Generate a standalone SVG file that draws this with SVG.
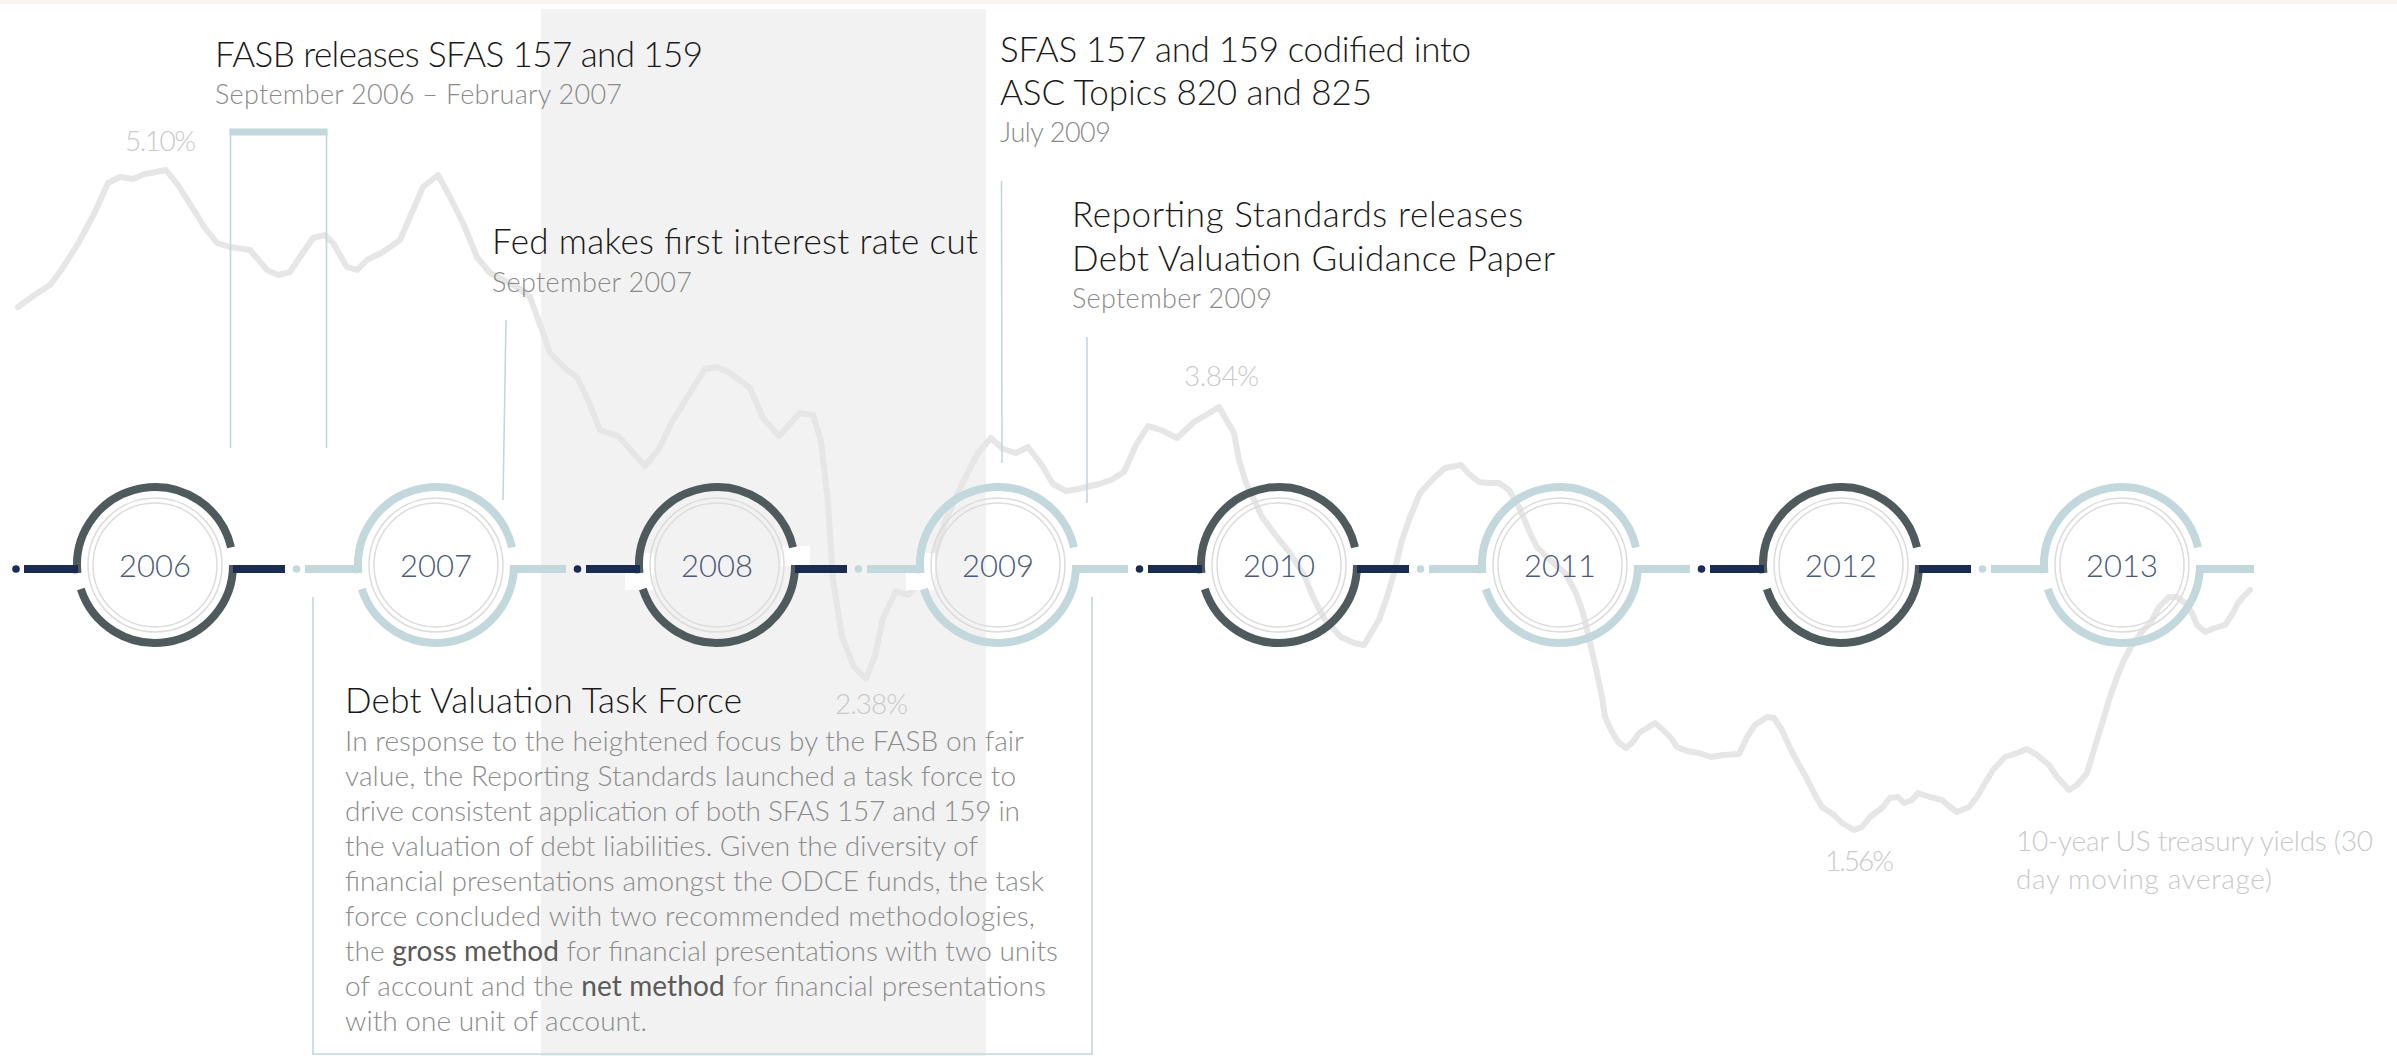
<svg xmlns="http://www.w3.org/2000/svg" width="2397" height="1056" viewBox="0 0 2397 1056">
<style>
text{font-family:"Lato","Open Sans","Noto Sans","Liberation Sans",sans-serif;font-weight:300}
.t{font-size:35px;fill:#1a1a1a}
.d{font-size:27px;fill:#8a8a8a}
.p{font-size:28px;fill:#c9c9c9}
.b{font-size:28px;fill:#8c8c8c}
.em{fill:#5a5a5a;font-weight:400}
.y{font-size:31px;fill:#4b5b7b;text-anchor:middle}
.lead{stroke:#c2d8dc;stroke-width:1.6;fill:none}
.ringD{stroke:#4f5a5c;stroke-width:8;fill:none}
.ringL{stroke:#c2d8dc;stroke-width:8;fill:none}
.inner{stroke:#dcdcdc;stroke-width:1.5;fill:none}
.mask{fill:#ffffff}
.barD{fill:#1a2c50}
.barL{fill:#c2d8dc}
</style>
<defs>
<g id="maskset">
<rect class="mask" x="-92" y="8" width="28" height="17"/>
<rect class="mask" x="-74" y="-12" width="11" height="20"/>
<rect class="mask" x="64" y="-19" width="29" height="20"/>
</g>
<g id="innerset">
<circle class="inner" r="67"/>
<circle class="inner" r="62"/>
</g>
<path id="arcTop" d="M-77.57,8.15 A78,78 0 0 1 76,-17.55"/>
<path id="arcBot" d="M78,0 A78,78 0 0 1 -74.18,24.1"/>
</defs>
<rect x="0" y="0" width="2397" height="1056" fill="#ffffff"/>
<rect x="0" y="0" width="2397" height="4" fill="#f6f5f1"/>
<rect x="541" y="9" width="445" height="1047" fill="#f2f2f2"/>
<g id="yield-curve">
<polyline fill="none" stroke="#e6e6e6" stroke-width="6" stroke-linejoin="round" stroke-linecap="round" points="18,307 33,296 50,285 62,269 79,242 95,212 108,183 120,177 133,179 145,174 166,170 178,185 195,212 205,228 217,243 230,247 250,250 267,270 278,275 290,272 300,257 313,238 325,235 333,243 347,267 357,270 367,260 383,252 400,240 413,210 423,187 438,175 450,197 463,223 477,257 490,273 517,287 530,297 543,333 550,353 567,370 577,377 588,400 600,430 618,436 630,449 645,466 659,449 672,422 688,396 705,369 717,367 730,373 750,388 763,418 779,436 788,426 800,413 813,415 821,441 828,503 833,579 842,637 854,667 866,679 875,656 883,618 896,591 908,595 920,583 933,560 945,522 962,484 978,453 991,438 1003,449 1016,453 1028,447 1041,464 1053,484 1066,491 1078,489 1099,484 1111,480 1124,472 1136,445 1148,426 1161,430 1177,438 1194,422 1206,415 1219,407 1234,433 1239,460 1246,483 1262,517 1277,537 1290,553 1305,577 1313,597 1325,620 1341,637 1354,643 1364,645 1371,633 1379,620 1387,597 1394,573 1402,540 1410,517 1420,493 1435,477 1445,468 1461,465 1468,473 1479,482 1489,483 1499,483 1509,490 1519,507 1530,533 1537,547 1550,560 1565,573 1576,593 1583,613 1591,647 1597,673 1602,697 1605,717 1611,730 1618,742 1626,748 1633,742 1639,733 1647,728 1655,723 1663,730 1671,738 1677,747 1687,751 1699,753 1711,757 1723,755 1739,754 1747,737 1755,725 1767,717 1774,718 1782,730 1790,748 1798,763 1806,777 1814,793 1822,807 1834,815 1842,823 1854,830 1862,827 1870,817 1882,808 1890,798 1898,797 1904,803 1912,800 1918,793 1930,797 1942,800 1950,807 1957,812 1969,807 1977,797 1985,783 1993,770 2005,757 2017,753 2027,749 2037,755 2049,765 2057,777 2069,790 2077,785 2087,773 2093,753 2101,727 2109,700 2117,677 2124,660 2131,647 2141,633 2151,622 2159,607 2169,597 2177,597 2185,603 2192,613 2197,625 2205,632 2215,628 2225,625 2233,613 2238,603 2243,597 2250,590"/>
</g>
<g id="chart-labels">
<text class="p" x="125" y="151" textLength="71">5.10%</text>
<text class="p" x="1184" y="386" textLength="75">3.84%</text>
<text class="p" x="835" y="714" textLength="73">2.38%</text>
<text class="p" x="1825" y="871" textLength="69">1.56%</text>
<text class="p" x="2016" y="851" textLength="357">10-year US treasury yields (30</text>
<text class="p" x="2016" y="889" textLength="256">day moving average)</text>
</g>
<g id="leaders">
<rect x="229.5" y="128.5" width="98" height="7" fill="#c2d8dc"/>
<line class="lead" x1="230.5" y1="129" x2="230.5" y2="448"/>
<line class="lead" x1="326.5" y1="129" x2="326.5" y2="448"/>
<line class="lead" x1="506" y1="320" x2="503" y2="500"/>
<line class="lead" x1="1001.5" y1="181" x2="1002" y2="463"/>
<line class="lead" x1="1087" y1="337" x2="1087" y2="503"/>
<polyline class="lead" stroke-width="2" points="313,597 313,1054 1092,1054 1092,597"/>
</g>
<g id="n2006" transform="translate(155,565)">
<use href="#maskset"/><use href="#innerset"/>
<use href="#arcTop" class="ringD"/><use href="#arcBot" class="ringD"/>
<text class="y" x="0" y="12">2006</text>
</g>
<g id="n2007" transform="translate(436,565)">
<use href="#maskset"/><use href="#innerset"/>
<use href="#arcTop" class="ringL"/><use href="#arcBot" class="ringL"/>
<text class="y" x="0" y="12">2007</text>
</g>
<g id="n2008" transform="translate(717,565)">
<use href="#maskset"/><use href="#innerset"/>
<use href="#arcTop" class="ringD"/><use href="#arcBot" class="ringD"/>
<text class="y" x="0" y="12">2008</text>
</g>
<g id="n2009" transform="translate(998,565)">
<use href="#maskset"/><use href="#innerset"/>
<use href="#arcTop" class="ringL"/><use href="#arcBot" class="ringL"/>
<text class="y" x="0" y="12">2009</text>
</g>
<g id="n2010" transform="translate(1279,565)">
<use href="#maskset"/><use href="#innerset"/>
<use href="#arcTop" class="ringD"/><use href="#arcBot" class="ringD"/>
<text class="y" x="0" y="12">2010</text>
</g>
<g id="n2011" transform="translate(1560,565)">
<use href="#maskset"/><use href="#innerset"/>
<use href="#arcTop" class="ringL"/><use href="#arcBot" class="ringL"/>
<text class="y" x="0" y="12">2011</text>
</g>
<g id="n2012" transform="translate(1841,565)">
<use href="#maskset"/><use href="#innerset"/>
<use href="#arcTop" class="ringD"/><use href="#arcBot" class="ringD"/>
<text class="y" x="0" y="12">2012</text>
</g>
<g id="n2013" transform="translate(2122,565)">
<use href="#maskset"/><use href="#innerset"/>
<use href="#arcTop" class="ringL"/><use href="#arcBot" class="ringL"/>
<text class="y" x="0" y="12">2013</text>
</g>
<g id="connectors">
<circle class="barD" cx="16" cy="569" r="3.8"/>
<rect class="barD" x="24" y="565" width="54" height="8"/>
<rect class="barD" x="233" y="565" width="52" height="8"/>
<circle class="barL" cx="296.5" cy="569" r="3.8"/>
<rect class="barL" x="305" y="565" width="54" height="8"/>
<rect class="barL" x="514" y="565" width="52" height="8"/>
<circle class="barD" cx="577.5" cy="569" r="3.8"/>
<rect class="barD" x="586" y="565" width="54" height="8"/>
<rect class="barD" x="795" y="565" width="52" height="8"/>
<circle class="barL" cx="858.5" cy="569" r="3.8"/>
<rect class="barL" x="867" y="565" width="54" height="8"/>
<rect class="barL" x="1076" y="565" width="52" height="8"/>
<circle class="barD" cx="1139.5" cy="569" r="3.8"/>
<rect class="barD" x="1148" y="565" width="54" height="8"/>
<rect class="barD" x="1357" y="565" width="52" height="8"/>
<circle class="barL" cx="1420.5" cy="569" r="3.8"/>
<rect class="barL" x="1429" y="565" width="54" height="8"/>
<rect class="barL" x="1638" y="565" width="52" height="8"/>
<circle class="barD" cx="1701.5" cy="569" r="3.8"/>
<rect class="barD" x="1710" y="565" width="54" height="8"/>
<rect class="barD" x="1919" y="565" width="52" height="8"/>
<circle class="barL" cx="1982.5" cy="569" r="3.8"/>
<rect class="barL" x="1991" y="565" width="54" height="8"/>
<rect class="barL" x="2200" y="565" width="54" height="8"/>
</g>
<g id="e-fasb">
<text class="t" x="215" y="67" textLength="488">FASB releases SFAS 157 and 159</text>
<text class="d" x="215" y="104" textLength="407">September 2006 – February 2007</text>
</g>
<g id="e-fed">
<text class="t" x="492" y="254" textLength="486">Fed makes first interest rate cut</text>
<text class="d" x="492" y="292" textLength="200">September 2007</text>
</g>
<g id="e-asc">
<text class="t" x="1000" y="62" textLength="471">SFAS 157 and 159 codified into</text>
<text class="t" x="1000" y="105" textLength="372">ASC Topics 820 and 825</text>
<text class="d" x="1000" y="142" textLength="111">July 2009</text>
</g>
<g id="e-guidance">
<text class="t" x="1072" y="227" textLength="451">Reporting Standards releases</text>
<text class="t" x="1072" y="271" textLength="483">Debt Valuation Guidance Paper</text>
<text class="d" x="1072" y="308" textLength="200">September 2009</text>
</g>
<g id="e-taskforce">
<text class="t" x="345" y="713" textLength="397">Debt Valuation Task Force</text>
<text class="b" x="345" y="751" textLength="679">In response to the heightened focus by the FASB on fair</text>
<text class="b" x="345" y="786" textLength="671">value, the Reporting Standards launched a task force to</text>
<text class="b" x="345" y="821" textLength="675">drive consistent application of both SFAS 157 and 159 in</text>
<text class="b" x="345" y="856" textLength="633">the valuation of debt liabilities. Given the diversity of</text>
<text class="b" x="345" y="891" textLength="699">financial presentations amongst the ODCE funds, the task</text>
<text class="b" x="345" y="926" textLength="690">force concluded with two recommended methodologies,</text>
<text class="b" x="345" y="961" textLength="713">the <tspan class="em">gross method</tspan> for financial presentations with two units</text>
<text class="b" x="345" y="996" textLength="701">of account and the <tspan class="em">net method</tspan> for financial presentations</text>
<text class="b" x="345" y="1031" textLength="302">with one unit of account.</text>
</g>
</svg>
